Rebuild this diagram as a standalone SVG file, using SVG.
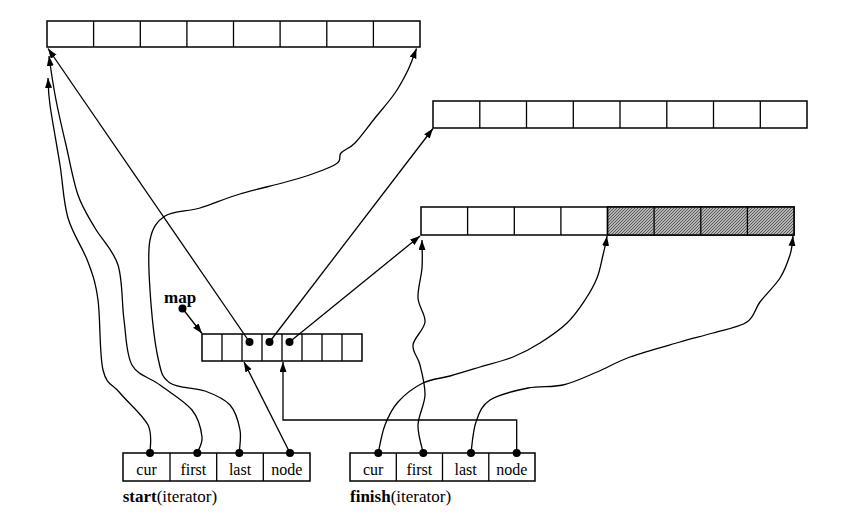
<svg xmlns="http://www.w3.org/2000/svg" width="863" height="515" viewBox="0 0 863 515">
<defs>
<marker id="ah" markerUnits="userSpaceOnUse" markerWidth="11" markerHeight="8" refX="10" refY="3.5" orient="auto"><path d="M0,0 L10,3.5 L0,7 z" fill="#000"/></marker>
<pattern id="hatch" patternUnits="userSpaceOnUse" width="3" height="3"><rect width="3" height="3" fill="#b4b4b4"/><path d="M0,3 L3,0 M-1,1 L1,-1 M2,4 L4,2" stroke="#444" stroke-width="0.8"/></pattern>
</defs>
<style>
.box{fill:#fff;stroke:#000;stroke-width:1.5}
.div{stroke:#000;stroke-width:1.3}
.ln{fill:none;stroke:#000;stroke-width:1.3;marker-end:url(#ah)}
.dot{fill:#000}
.t{font-family:"Liberation Serif","Times New Roman",serif;font-size:16px;fill:#000}
.c{text-anchor:middle}
.b{font-weight:bold}
</style>

<g id="buffer1">
<rect class="box" x="47" y="21" width="373" height="26"/>
<path class="div" d="M93.6,21V47M140.3,21V47M186.9,21V47M233.5,21V47M280.1,21V47M326.8,21V47M373.4,21V47"/>
</g>
<g id="buffer2">
<rect class="box" x="433" y="101" width="374" height="27"/>
<path class="div" d="M479.8,101V128M526.5,101V128M573.3,101V128M620,101V128M666.8,101V128M713.5,101V128M760.3,101V128"/>
</g>
<g id="buffer3">
<rect class="box" x="421" y="207" width="373" height="28"/>
<rect x="607.5" y="207" width="186.5" height="28" fill="url(#hatch)" stroke="#000" stroke-width="1.5"/>
<path class="div" d="M467.6,207V235M514.3,207V235M560.9,207V235M607.5,207V235M654.1,207V235M700.8,207V235M747.4,207V235"/>
</g>
<g id="map">
<text class="t b" x="164" y="303" style="font-size:17px">map</text>
<circle class="dot" cx="182.5" cy="308.5" r="4"/>
<rect class="box" x="202" y="334" width="160" height="27"/>
<path class="div" d="M222,334V361M242,334V361M262,334V361M282,334V361M302,334V361M322,334V361M342,334V361"/>
<circle class="dot" cx="249.5" cy="342" r="4"/>
<circle class="dot" cx="269.5" cy="342" r="4"/>
<circle class="dot" cx="289.5" cy="342" r="4"/>
</g>
<g id="start">
<rect class="box" x="123" y="453" width="187" height="28"/>
<path class="div" d="M170,453V481M216.7,453V481M263.3,453V481"/>
<text class="t c" x="146.5" y="475">cur</text>
<text class="t c" x="193.3" y="475">first</text>
<text class="t c" x="240" y="475">last</text>
<text class="t c" x="286.7" y="475">node</text>
<text class="t" x="122.7" y="501.5" style="font-size:17px"><tspan class="b">start</tspan>(iterator)</text>
<circle class="dot" cx="150" cy="453" r="4"/>
<circle class="dot" cx="197.3" cy="453" r="4"/>
<circle class="dot" cx="239.3" cy="453" r="4"/>
<circle class="dot" cx="290" cy="453" r="4"/>
</g>
<g id="finish">
<rect class="box" x="350" y="453" width="185" height="28"/>
<path class="div" d="M396.3,453V481M442.5,453V481M488.8,453V481"/>
<text class="t c" x="373.1" y="475">cur</text>
<text class="t c" x="419.4" y="475">first</text>
<text class="t c" x="465.6" y="475">last</text>
<text class="t c" x="511.9" y="475">node</text>
<text class="t" x="350" y="501.5" style="font-size:17px"><tspan class="b">finish</tspan>(iterator)</text>
<circle class="dot" cx="378.3" cy="453" r="4"/>
<circle class="dot" cx="423.3" cy="453" r="4"/>
<circle class="dot" cx="471" cy="453" r="4"/>
<circle class="dot" cx="516.7" cy="453" r="4"/>
</g>

<g id="connectors">
<path class="ln" d="M182.5,308.5 L202,333.5"/>
<path class="ln" d="M249.5,342 L48,48.5"/>
<path class="ln" d="M269.5,342 L433,128.5"/>
<path class="ln" d="M289.5,342 L420,236"/>
<path class="ln" d="M290,453 L244,362"/>
<path class="ln" d="M516.7,453 V420 H283 V362"/>
<path class="ln" d="M150,453 C149.7,448.3 153,435 148,425 C143,415 127.5,402.2 120,393 C112.5,383.8 106.7,385.5 103,370 C99.3,354.5 100.5,318 98,300 C95.5,282 93,275.7 88,262 C83,248.3 72.7,234.2 68,218 C63.3,201.8 63,183.8 60,165 C57,146.2 52,119.3 50,105 C48,90.7 48.3,83.3 48,78"/>
<path class="ln" d="M197.3,453 C197.8,450.3 202.8,444.2 202,437 C201.2,429.8 199,418.7 192,410 C185,401.3 170,392.5 160,385 C150,377.5 138,375.8 132,365 C126,354.2 126.3,336.7 124,320 C121.7,303.3 122.8,280.3 118,265 C113.2,249.7 101.7,239.7 95,228 C88.3,216.3 82.8,208.8 78,195 C73.2,181.2 69.7,160.8 66,145 C62.3,129.2 58.8,114.5 56,100 C53.2,85.5 50.2,65 49,56"/>
<path class="ln" d="M239.3,453 C239.2,449.2 241.5,438 240,430 C238.5,422 235.8,411.5 230,405 C224.2,398.5 215,394.7 205,391 C195,387.3 177.8,388.5 170,383 C162.2,377.5 161.3,373.5 158,358 C154.7,342.5 151.3,309.7 150,290 C148.7,270.3 147.5,252.3 150,240 C152.5,227.7 156.7,221.3 165,216 C173.3,210.7 187.5,211.7 200,208 C212.5,204.3 223.3,199 240,194 C256.7,189 283.8,183.2 300,178 C316,173 329.2,168.2 336,164 C342.8,159.8 337.8,156.5 341,153 C344.2,149.5 349.3,148.8 355,143 C360.7,137.2 368.3,126.3 375,118 C381.7,109.7 389.5,101 395,93 C400.5,85 404.5,77.2 408,70 C411.5,62.8 414.7,53.3 416.5,48.5"/>
<path class="ln" d="M378.3,453 C379.2,448.3 381.7,433.5 385,425 C388.3,416.5 391.7,409 398,402 C404.3,395 414.3,387.3 423,383 C431.7,378.7 440.5,378.7 450,376 C459.5,373.3 469.5,370.2 480,367 C490.5,363.8 503,361 513,357 C523,353 531,348.7 540,343 C549,337.3 559.5,330.2 567,323 C574.5,315.8 580,307.5 585,300 C590,292.5 594,285.5 597,278 C600,270.5 601.3,261.7 603,255 C604.7,248.3 606.3,240.8 607,236"/>
<path class="ln" d="M423.3,453 C422.2,448.3 417.7,434.7 418,425 C418.3,415.3 424.7,405 425,395 C425.3,385 422,373.3 420,365 C418,356.7 412.2,352.2 413,345 C413.8,337.8 424.2,329.8 425,322 C425.8,314.2 418.5,307 418,298 C417.5,289 421.3,277.3 422,268 C422.7,258.7 422,246.3 422,240"/>
<path class="ln" d="M471,453 C471.8,447.8 472.8,430.8 476,422 C479.2,413.2 481.3,405.7 490,400 C498.7,394.3 515.8,390.5 528,388 C540.2,385.5 551.5,387.7 563,385 C574.5,382.3 585.8,376.7 597,372 C608.2,367.3 616.2,362 630,357 C643.8,352 666.2,346 680,342 C693.8,338 701.8,336.3 713,333 C724.2,329.7 739.2,327.2 747,322 C754.8,316.8 754.5,309.3 760,302 C765.5,294.7 775,285.8 780,278 C785,270.2 787.8,261.7 790,255 C792.2,248.3 792.5,240.8 793,236"/>
</g>
</svg>
